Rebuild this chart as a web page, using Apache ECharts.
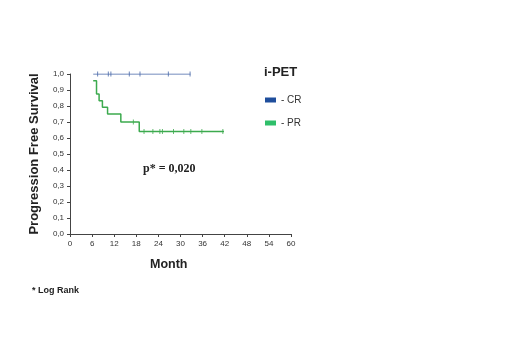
<!DOCTYPE html>
<html>
<head>
<meta charset="utf-8">
<script src="https://cdn.jsdelivr.net/npm/echarts@6/dist/echarts.min.js"></script>
<style>
html,body{margin:0;padding:0;background:#fff;}
#chart{width:520px;height:346px;}
</style>
</head>
<body>
<div id="chart"></div>
<script>
// Kaplan-Meier step data (month, survival)
var crTimes = [6.3, 32.7];
var crSurv = [1.0, 1.0];
var crCensor = [7.5, 10.4, 11.1, 16.1, 19.0, 26.7, 32.6];

var prTimes = [6.3, 7.2, 7.9, 8.8, 10.2, 13.8, 18.8, 41.8];
var prSurv = [0.958, 0.875, 0.833, 0.792, 0.75, 0.70, 0.64, 0.64];
var prCensor = [17.2, 20.1, 22.5, 24.4, 25.1, 28.1, 30.9, 32.8, 35.8, 41.5];

var xTicks = [0, 6, 12, 18, 24, 30, 36, 42, 48, 54, 60];
var yTicks = [0, 0.1, 0.2, 0.3, 0.4, 0.5, 0.6, 0.7, 0.8, 0.9, 1.0];

var crColor = '#4666a8';
var prColor = '#3caa4e';

function pairs(xs, ys) { return xs.map(function (x, i) { return [x, ys[i]]; }); }
function survAt(xs, ys, t) {
  var s = ys[0];
  for (var i = 0; i < xs.length; i++) { if (xs[i] <= t) s = ys[i]; }
  return s;
}
function censorPts(times, xs, ys) {
  return times.map(function (t) { return [t, survAt(xs, ys, t)]; });
}

var chart = echarts.init(document.getElementById('chart'), null, {renderer: 'canvas'});
var axisColor = '#444';
chart.setOption({
  animation: false,
  backgroundColor: '#fff',
  grid: {left: 70, right: 229, top: 74, bottom: 112},
  xAxis: {
    type: 'value', min: 0, max: 60, interval: 6,
    axisLine: {show: true, lineStyle: {color: axisColor, width: 1}},
    axisTick: {show: true, length: 3, lineStyle: {color: axisColor}},
    splitLine: {show: false},
    axisLabel: {color: '#333', fontSize: 8, fontFamily: 'Liberation Sans, Arial', margin: 6}
  },
  yAxis: {
    type: 'value', min: 0, max: 1, interval: 0.1,
    axisLine: {show: true, lineStyle: {color: axisColor, width: 1}},
    axisTick: {show: true, length: 3, lineStyle: {color: axisColor}},
    splitLine: {show: false},
    axisLabel: {color: '#333', fontSize: 8, fontFamily: 'Liberation Sans, Arial', margin: 6,
      formatter: function (v) { return v.toFixed(1).replace('.', ','); }},
    name: 'Progression Free Survival', nameLocation: 'middle', nameGap: 29, nameRotate: 90,
    nameTextStyle: {color: '#222', fontSize: 13, fontWeight: 'bold', fontFamily: 'Liberation Sans, Arial'}
  },
  legend: {
    orient: 'vertical', left: 260, top: 90, itemGap: 13,
    itemWidth: 11, itemHeight: 5, icon: 'rect',
    data: ['CR', 'PR'],
    formatter: function (n) { return '- ' + n; },
    textStyle: {color: '#333', fontSize: 10, fontFamily: 'Liberation Sans, Arial'}
  },
  series: [
    {name: 'CR', type: 'line', step: 'end', showSymbol: false, data: pairs(crTimes, crSurv),
     lineStyle: {color: crColor, width: 1}, itemStyle: {color: '#1f4e9c'}},
    {name: 'PR', type: 'line', step: 'end', showSymbol: false, data: pairs(prTimes, prSurv),
     lineStyle: {color: prColor, width: 1.5}, itemStyle: {color: '#2fbf6a'}},
    {name: 'CR', type: 'scatter', symbol: 'rect', symbolSize: [1, 5], data: censorPts(crCensor, crTimes, crSurv),
     itemStyle: {color: crColor}},
    {name: 'PR', type: 'scatter', symbol: 'rect', symbolSize: [1, 5], data: censorPts(prCensor, prTimes, prSurv),
     itemStyle: {color: prColor}}
  ],
  graphic: [
    {type: 'text', left: 264, top: 66, style: {text: 'i-PET', fontSize: 13, fontWeight: 'bold', fill: '#222', fontFamily: 'Liberation Sans, Arial'}},
    {type: 'text', left: 143, top: 163, style: {text: 'p* = 0,020', fontSize: 12, fontWeight: 'bold', fill: '#222', fontFamily: 'Liberation Serif, Times New Roman'}},
    {type: 'text', left: 150, top: 258, style: {text: 'Month', fontSize: 12.5, fontWeight: 'bold', fill: '#222', fontFamily: 'Liberation Sans, Arial'}},
    {type: 'text', left: 32, top: 286, style: {text: '* Log Rank', fontSize: 9, fontWeight: 'bold', fill: '#222', fontFamily: 'Liberation Sans, Arial'}}
  ]
});
</script>
</body>
</html>
